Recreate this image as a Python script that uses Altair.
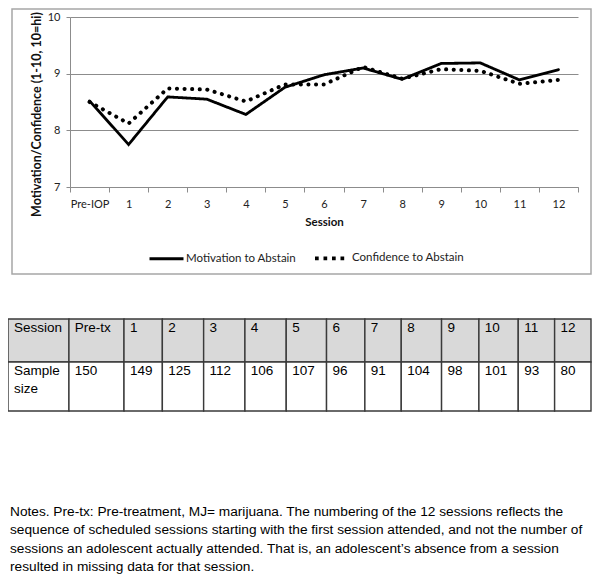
import altair as alt
import pandas as pd

# ---------------- data ----------------
SESSIONS = ["Pre-IOP", "1", "2", "3", "4", "5", "6", "7", "8", "9", "10", "11", "12"]
MOTIVATION = [8.52, 7.75, 8.59, 8.55, 8.28, 8.76, 8.98, 9.10, 8.90, 9.18, 9.19, 8.89, 9.07]
CONFIDENCE = [8.50, 8.12, 8.74, 8.72, 8.51, 8.81, 8.81, 9.12, 8.91, 9.08, 9.05, 8.82, 8.89]
SERIES = ["Motivation to Abstain", "Confidence to Abstain"]

TABLE_HEADER = ["Session", "Pre-tx", "1", "2", "3", "4", "5", "6", "7", "8", "9", "10", "11", "12"]
ROW_LABEL = "Sample\nsize"
SAMPLE_SIZES = [150, 149, 125, 112, 106, 107, 96, 91, 104, 98, 101, 93, 80]

NOTES = ("Notes. Pre-tx: Pre-treatment, MJ= marijuana. The numbering of the 12 sessions reflects the\n"
         "sequence of scheduled sessions starting with the first session attended, and not the number of\n"
         "sessions an adolescent actually attended. That is, an adolescent\u2019s absence from a session\n"
         "resulted in missing data for that session.")

# ---------------- layout (page pixels) ----------------
VIEW_X0, VIEW_Y0 = 70, 17          # plot-area origin in the page
PLOT_W, PLOT_H = 508, 170
COL_EDGES = [4, 66, 122, 161, 203, 245, 287, 328, 367, 404, 445, 483, 523, 560, 597]
ROW_EDGES = [319, 362, 411]
TABLE_LEFT, TABLE_RIGHT = 8, 591
BOX = dict(left=12, right=591, top=9, bottom=274)
NOTES_POS = (10, 505)

CHART_FONT = "Lato"
TICK_FS = 11
LEGEND_FS = 11.5
YTITLE_FS = 12.5
XTITLE_FS = 11.5
TABLE_FONT = "Liberation Sans"

# ---------------- line chart ----------------
rows = []
for i, s in enumerate(SESSIONS):
    rows.append({"session": s, "series": SERIES[0], "value": MOTIVATION[i]})
    rows.append({"session": s, "series": SERIES[1], "value": CONFIDENCE[i]})
df_line = pd.DataFrame(rows)

line = alt.Chart(df_line).mark_line(color="black", strokeCap="round").encode(
    x=alt.X("session:O", sort=SESSIONS,
            scale=alt.Scale(type="band", paddingInner=0, paddingOuter=0),
            axis=alt.Axis(title="Session", tickBand="extent", labelAngle=0, grid=False,
                          domainColor="#8c8c8c", tickColor="#8c8c8c", tickSize=5,
                          labelFont=CHART_FONT, labelFontSize=TICK_FS, labelColor="#222",
                          labelPadding=6, titleFont=CHART_FONT, titleFontSize=XTITLE_FS,
                          titleFontWeight="bold", titleColor="#111", titlePadding=7)),
    y=alt.Y("value:Q", scale=alt.Scale(domain=[7, 10]),
            axis=alt.Axis(values=[7, 8, 9, 10], title="Motivation/Confidence  (1-10, 10=hi)",
                          grid=True, gridColor="#8c8c8c", domainColor="#8c8c8c",
                          tickColor="#8c8c8c", tickSize=4, labelFont=CHART_FONT,
                          labelFontSize=TICK_FS, labelColor="#222", labelPadding=6,
                          titleFont=CHART_FONT, titleFontSize=YTITLE_FS, titleFontWeight="bold",
                          titleColor="#111", titleX=-34, titleY=97, titleBaseline="middle",
                          titleAlign="center", titleAngle=270)),
    strokeDash=alt.StrokeDash("series:N", sort=SERIES,
                              scale=alt.Scale(domain=SERIES, range=[[1, 0], [0.1, 7.5]]),
                              legend=None),
    strokeWidth=alt.StrokeWidth("series:N", sort=SERIES,
                                scale=alt.Scale(domain=SERIES, range=[2.8, 4]),
                                legend=None),
    order=alt.Order("series:N"),
)

# legend built from the scale domain (no marks drawn by this layer)
legend_props = dict(title=None, orient="none", direction="horizontal",
                    legendX=78, legendY=222, symbolType="stroke", symbolSize=1156,
                    symbolStrokeColor="black", labelFont=CHART_FONT, labelFontSize=LEGEND_FS,
                    labelColor="#222", labelOffset=1, columnPadding=10)
legend_layer = alt.Chart(df_line).transform_filter("false").mark_line(
    color="black", strokeCap="butt"
).encode(
    strokeDash=alt.StrokeDash("series:N", sort=SERIES,
                              scale=alt.Scale(domain=SERIES, range=[[1, 0], [3.7, 4.8]]),
                              legend=alt.Legend(**legend_props)),
    strokeWidth=alt.StrokeWidth("series:N", sort=SERIES,
                                scale=alt.Scale(domain=SERIES, range=[3, 3.7]),
                                legend=alt.Legend(**legend_props)),
)

# ---------------- outer box ----------------
box = alt.Chart(pd.DataFrame({"k": [0]})).mark_rect(
    fill="transparent", stroke="#a6a6a6", strokeWidth=1.5
).encode(
    x=alt.value(BOX["left"] - VIEW_X0), x2=alt.value(BOX["right"] - VIEW_X0),
    y=alt.value(BOX["top"] - VIEW_Y0), y2=alt.value(BOX["bottom"] - VIEW_Y0),
)

# ---------------- table ----------------
cells = []
for c in range(len(TABLE_HEADER)):
    cells.append({"x": COL_EDGES[c], "x2": COL_EDGES[c + 1], "y": ROW_EDGES[0],
                  "y2": ROW_EDGES[1], "row": "header", "text": TABLE_HEADER[c]})
    body = ROW_LABEL if c == 0 else str(SAMPLE_SIZES[c - 1])
    cells.append({"x": COL_EDGES[c], "x2": COL_EDGES[c + 1], "y": ROW_EDGES[1],
                  "y2": ROW_EDGES[2], "row": "body", "text": body})
df_cells = pd.DataFrame(cells)

tx_scale = alt.Scale(domain=[COL_EDGES[0], COL_EDGES[-1]],
                     range=[TABLE_LEFT - VIEW_X0, TABLE_RIGHT - VIEW_X0])
ty_scale = alt.Scale(domain=[ROW_EDGES[0], ROW_EDGES[-1]],
                     range=[ROW_EDGES[0] - VIEW_Y0, ROW_EDGES[-1] - VIEW_Y0])

table_rects = alt.Chart(df_cells).mark_rect(stroke="#3a3a3a", strokeWidth=1.4).encode(
    x=alt.X("x:Q", scale=tx_scale, axis=None), x2="x2:Q",
    y=alt.Y("y:Q", scale=ty_scale, axis=None), y2="y2:Q",
    fill=alt.Fill("row:N", scale=alt.Scale(domain=["header", "body"],
                                          range=["#d9d9d9", "#ffffff"]), legend=None),
)

table_text = alt.Chart(df_cells).transform_calculate(
    tx="datum.x + 6", ty="datum.y + 2"
).mark_text(align="left", baseline="top", lineBreak="\n", lineHeight=18,
            font=TABLE_FONT, fontSize=13.5, color="#000").encode(
    x=alt.X("tx:Q", scale=tx_scale, axis=None),
    y=alt.Y("ty:Q", scale=ty_scale, axis=None),
    text="text:N",
)

# ---------------- notes ----------------
notes = alt.Chart(pd.DataFrame({"t": [NOTES]})).mark_text(
    align="left", baseline="top", lineBreak="\n", lineHeight=18.3,
    font=TABLE_FONT, fontSize=13.7, color="#000"
).encode(
    x=alt.value(NOTES_POS[0] - VIEW_X0), y=alt.value(NOTES_POS[1] - VIEW_Y0), text="t:N"
)

chart = alt.layer(box, line, legend_layer, table_rects, table_text, notes).resolve_scale(
    x="independent", y="independent", strokeDash="independent", strokeWidth="independent"
).properties(
    width=PLOT_W, height=PLOT_H,
    autosize=alt.AutoSizeParams(type="none"),
    padding={"left": 62, "top": 9, "right": 14, "bottom": 390},
    background="white",
).configure_view(stroke=None)

chart.save("out.html", embed_options={"renderer": "svg", "actions": False})
